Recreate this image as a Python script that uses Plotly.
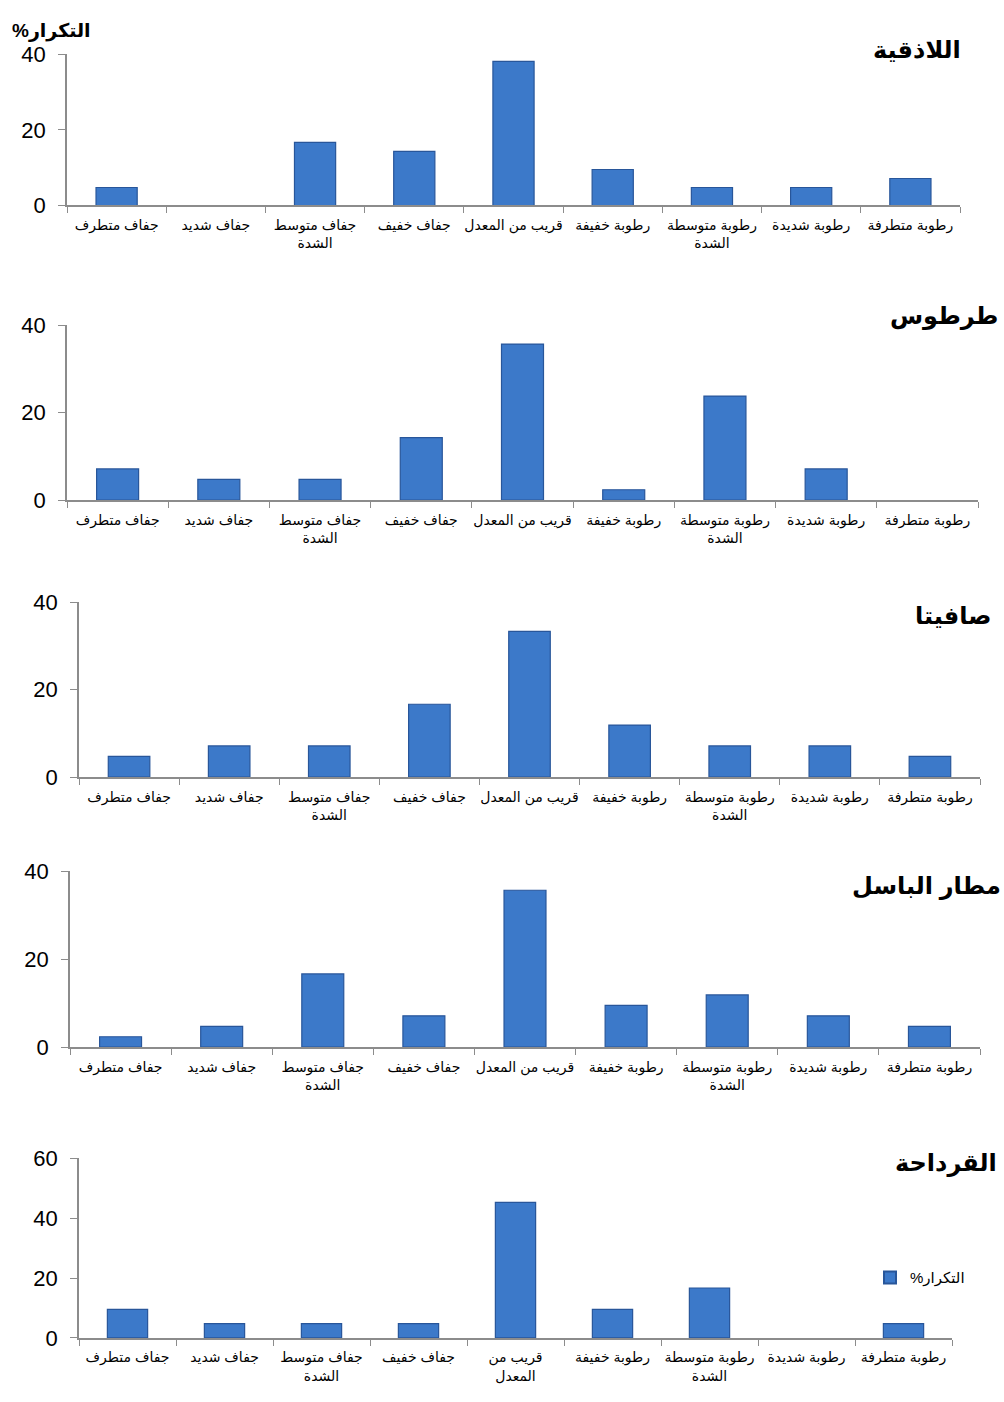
import plotly.graph_objects as go

W, H = 1004, 1402

categories = [
    "جفاف متطرف", "جفاف شديد", "جفاف متوسط<br>الشدة", "جفاف خفيف", "قريب من المعدل",
    "رطوبة خفيفة", "رطوبة متوسطة<br>الشدة", "رطوبة شديدة", "رطوبة متطرفة",
]
categories_qardaha = [
    "جفاف متطرف", "جفاف شديد", "جفاف متوسط<br>الشدة", "جفاف خفيف", "قريب من<br>المعدل",
    "رطوبة خفيفة", "رطوبة متوسطة<br>الشدة", "رطوبة شديدة", "رطوبة متطرفة",
]

stations = ["اللاذقية", "طرطوس", "صافيتا", "مطار الباسل", "القرداحة"]

latakia = [4.76, 0, 16.67, 14.29, 38.10, 9.52, 4.76, 4.76, 7.14]
tartous = [7.14, 4.76, 4.76, 14.29, 35.71, 2.38, 23.81, 7.14, 0]
safita = [4.76, 7.14, 7.14, 16.67, 33.33, 11.90, 7.14, 7.14, 4.76]
basel_airport = [2.38, 4.76, 16.67, 7.14, 35.71, 9.52, 11.90, 7.14, 4.76]
qardaha = [9.52, 4.76, 4.76, 4.76, 45.24, 9.52, 16.67, 0, 4.76]

series_name = "التكرار%"
y_ranges = [40, 40, 40, 40, 60]
y_ticks = [[0, 20, 40]] * 4 + [[0, 20, 40, 60]]

all_values = [latakia, tartous, safita, basel_airport, qardaha]
all_cats = [categories] * 4 + [categories_qardaha]

RLM = "\u200f"

# pixel boxes of plot areas: (x0, x1, ytop, ybottom)
boxes = [
    (67, 960, 43, 197),
    (67, 978, 319, 497),
    (79, 980, 601, 779),
    (70, 980, 875, 1054),
    (79, 952, 1167, 1350),
]
# title centres (x, y) in pixels
title_pos = [(917, 38), (944, 310), (953, 614), (926, 890), (946, 1172)]

FONT = "Liberation Sans, Arial, DejaVu Sans, sans-serif"
BAR = "#3c79c9"
EDGE = "#28569a"
AX = "#8c8c8c"

fig = go.Figure()
layout = dict(
    width=W, height=H,
    margin=dict(l=0, r=0, t=0, b=0),
    paper_bgcolor="white", plot_bgcolor="white",
    font=dict(family=FONT, color="black"),
    bargap=0.585,
    showlegend=True,
    legend=dict(x=870 / W, y=1 - 1272 / H, xanchor="left", yanchor="top",
                font=dict(size=15, family=FONT), bgcolor="rgba(0,0,0,0)",
                itemsizing="constant"),
    annotations=[],
)

for i in range(5):
    n = "" if i == 0 else str(i + 1)
    x0, x1, yt, yb = boxes[i]
    vals = all_values[i]
    fig.add_trace(go.Bar(
        x=all_cats[i], y=vals, name=series_name + RLM,
        xaxis="x" + n, yaxis="y" + n,
        marker=dict(color=BAR,
                    line=dict(color=[EDGE if v > 0 else "rgba(0,0,0,0)" for v in vals],
                              width=1.2)),
        showlegend=(i == 4),
    ))
    layout["xaxis" + n] = dict(
        domain=[x0 / W, x1 / W], anchor="y" + n,
        type="category", categoryorder="array", categoryarray=all_cats[i],
        showline=True, linecolor=AX, linewidth=1.5,
        ticks="outside", tickson="boundaries", ticklen=6, tickcolor=AX,
        tickangle=0, ticklabelstandoff=6,
        tickfont=dict(size=14, family=FONT), showgrid=False, zeroline=False,
    )
    layout["yaxis" + n] = dict(
        domain=[1 - yb / H, 1 - yt / H], anchor="x" + n,
        range=[0, y_ranges[i]], tickvals=y_ticks[i],
        showline=True, linecolor=AX, linewidth=1.5,
        ticks="outside", ticklen=7, tickcolor=AX, ticklabelstandoff=8,
        tickfont=dict(size=22, family=FONT), showgrid=False, zeroline=False,
    )
    tx, ty = title_pos[i]
    layout["annotations"].append(dict(
        text="<b>" + stations[i] + "</b>", x=tx / W, y=1 - ty / H,
        xref="paper", yref="paper", xanchor="center", yanchor="middle",
        showarrow=False, font=dict(size=24, family=FONT, color="black"),
    ))

layout["annotations"].append(dict(
    text="<b>" + series_name + RLM + "</b>", x=10 / W, y=1 - 19 / H,
    xref="paper", yref="paper", xanchor="left", yanchor="middle",
    showarrow=False, font=dict(size=19, family=FONT, color="black"),
))

fig.update_layout(**layout)
fig.write_html("out.html")
